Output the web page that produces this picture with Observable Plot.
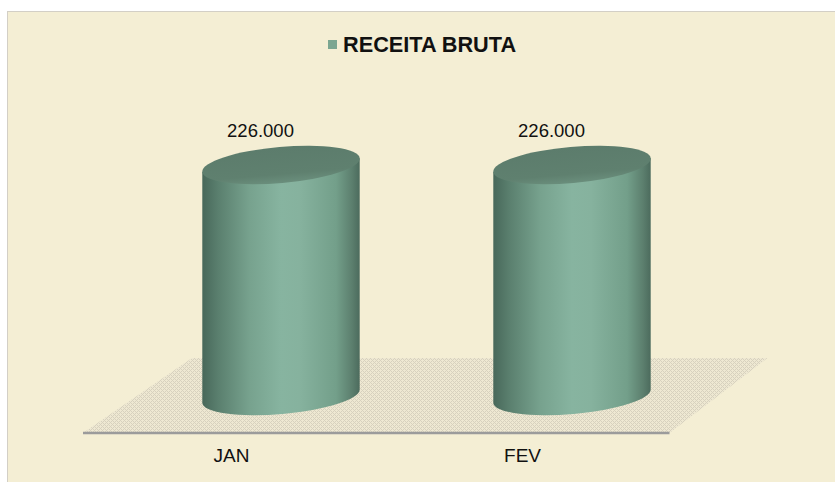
<!DOCTYPE html>
<html>
<head>
<meta charset="utf-8">
<script src="https://cdn.jsdelivr.net/npm/d3@7"></script>
<script src="https://cdn.jsdelivr.net/npm/@observablehq/plot@0.6"></script>
<style>
  body { margin: 0; background: #ffffff; font-family: "Liberation Sans", Arial, sans-serif; }
  #wrap { position: relative; width: 835px; height: 482px; overflow: hidden; }
  #panel { position: absolute; left: 7px; top: 11px; width: 840px; height: 480px;
           background: #F4EED4; border-left: 1.5px solid #D3CFC6; border-top: 1.5px solid #D3CFC6; }
  #legend-sw { position: absolute; left: 328px; top: 40px; width: 9px; height: 9px; background: #7BA691; }
  #legend-tx { position: absolute; left: 343px; top: 34px; font-size: 21.7px; line-height: 1;
               font-weight: bold; color: #111; white-space: nowrap; }
  #chart { position: absolute; left: 0; top: 0; }
</style>
</head>
<body>
<div id="wrap">
  <div id="panel"></div>
  <div id="legend-sw"></div>
  <div id="legend-tx"></div>
  <div id="chart"></div>
</div>
<script>
// ---- data ----
const months = ["JAN", "FEV"];
const receitaBruta = [226000, 226000];
const seriesName = "RECEITA BRUTA";

const data = months.map((m, i) => ({month: m, value: receitaBruta[i]}));
const fmt = d3.formatLocale({decimal: ",", thousands: ".", grouping: [3], currency: ["R$ ", ""]}).format(",d");

document.getElementById("legend-tx").textContent = seriesName;

const TILT = -5;          // degrees, ellipse tilt
const RY = 18;            // ellipse semi-minor axis (px)

// floor (y = 0 plane) drawn in perspective
function floorMark(index, scales) {
  const x = scales.x, y = scales.y;
  const bw = x.bandwidth();
  const first = x(months[0]), last = x(months[months.length - 1]) + bw;
  const y0 = y(0);
  const g = d3.create("svg:g");
  const defs = g.append("defs");
  const pat = defs.append("pattern").attr("id", "floorPat").attr("patternUnits", "userSpaceOnUse")
    .attr("width", 4).attr("height", 4);
  pat.append("rect").attr("width", 4).attr("height", 4).attr("fill", "#EEE8D2");
  [[0,0],[1,1],[2,2],[3,3],[3,1],[1,3]].forEach(([px, py]) =>
    pat.append("rect").attr("x", px).attr("y", py).attr("width", 1).attr("height", 1).attr("fill", "#D7D1BE"));
  const front = y0 + 37, back = y0 - 38;
  const pts = [[first - 119, front], [last + 18.5, front], [last + 116.5, back], [first - 10, back]];
  g.append("polygon").attr("points", pts.map(p => p.join(",")).join(" ")).attr("fill", "url(#floorPat)");
  g.append("line").attr("x1", first - 119).attr("x2", last + 18.5).attr("y1", front).attr("y2", front)
    .attr("stroke", "#9B9B9B").attr("stroke-width", 2.5);
  return g.node();
}

// cylinders drawn from the bar channels
function cylinderRender(index, scales, values) {
  const bw = scales.x.bandwidth();
  const rx = bw / 2;
  const t = TILT * Math.PI / 180;
  const a = rx * Math.cos(t), b = rx * Math.sin(t);   // b negative
  const g = d3.create("svg:g");
  const defs = g.append("defs");
  const lg = defs.append("linearGradient").attr("id", "cylBody").attr("x1", 0).attr("x2", 1).attr("y1", 0).attr("y2", 0);
  [[0, "#48685A"], [0.1, "#5A7F6E"], [0.3, "#77A28E"], [0.5, "#87B4A0"], [0.62, "#86B29E"],
   [0.85, "#739F8A"], [0.95, "#5C7F6E"], [1, "#4C6B5D"]]
    .forEach(([o, c]) => lg.append("stop").attr("offset", o).attr("stop-color", c));
  const tg = defs.append("linearGradient").attr("id", "cylTop").attr("x1", 0).attr("x2", 0).attr("y1", 0).attr("y2", 1);
  [[0, "#5C7C6C"], [0.75, "#5F806F"], [1, "#6A8E7C"]]
    .forEach(([o, c]) => tg.append("stop").attr("offset", o).attr("stop-color", c));
  for (const i of index) {
    const cx = values.x[i] + bw / 2;
    const yt = Math.min(values.y1[i], values.y2[i]);
    const yb = Math.max(values.y1[i], values.y2[i]);
    const d = `M${cx - a},${yt - b} L${cx - a},${yb - b} A${rx},${RY} ${TILT} 0 0 ${cx + a},${yb + b} L${cx + a},${yt + b} Z`;
    g.append("path").attr("d", d).attr("fill", "url(#cylBody)");
    g.append("ellipse").attr("cx", 0).attr("cy", 0).attr("rx", rx).attr("ry", RY)
      .attr("transform", `translate(${cx},${yt}) rotate(${TILT})`)
      .attr("fill", "url(#cylTop)");
  }
  return g.node();
}

const chart = Plot.plot({
  width: 835,
  height: 482,
  margin: 0,
  style: {background: "transparent", fontFamily: "'Liberation Sans', Arial, sans-serif", overflow: "visible"},
  x: {type: "band", domain: months, range: [68.5, 785], padding: 0.458, axis: null},
  y: {domain: [0, 250000], range: [396, 140.5], axis: null},
  marks: [
    floorMark,
    Plot.barY(data, {x: "month", y: "value", render: cylinderRender}),
    Plot.text(data, {x: "month", y: "value", text: d => fmt(d.value), dx: -21, dy: -34,
                     fontSize: 18.5, fill: "#111"}),
    Plot.text(data, {x: "month", y: () => 0, text: "month", dx: -50, dy: 59.6,
                     fontSize: 19, fill: "#111"})
  ]
});
document.getElementById("chart").appendChild(chart);
</script>
</body>
</html>
